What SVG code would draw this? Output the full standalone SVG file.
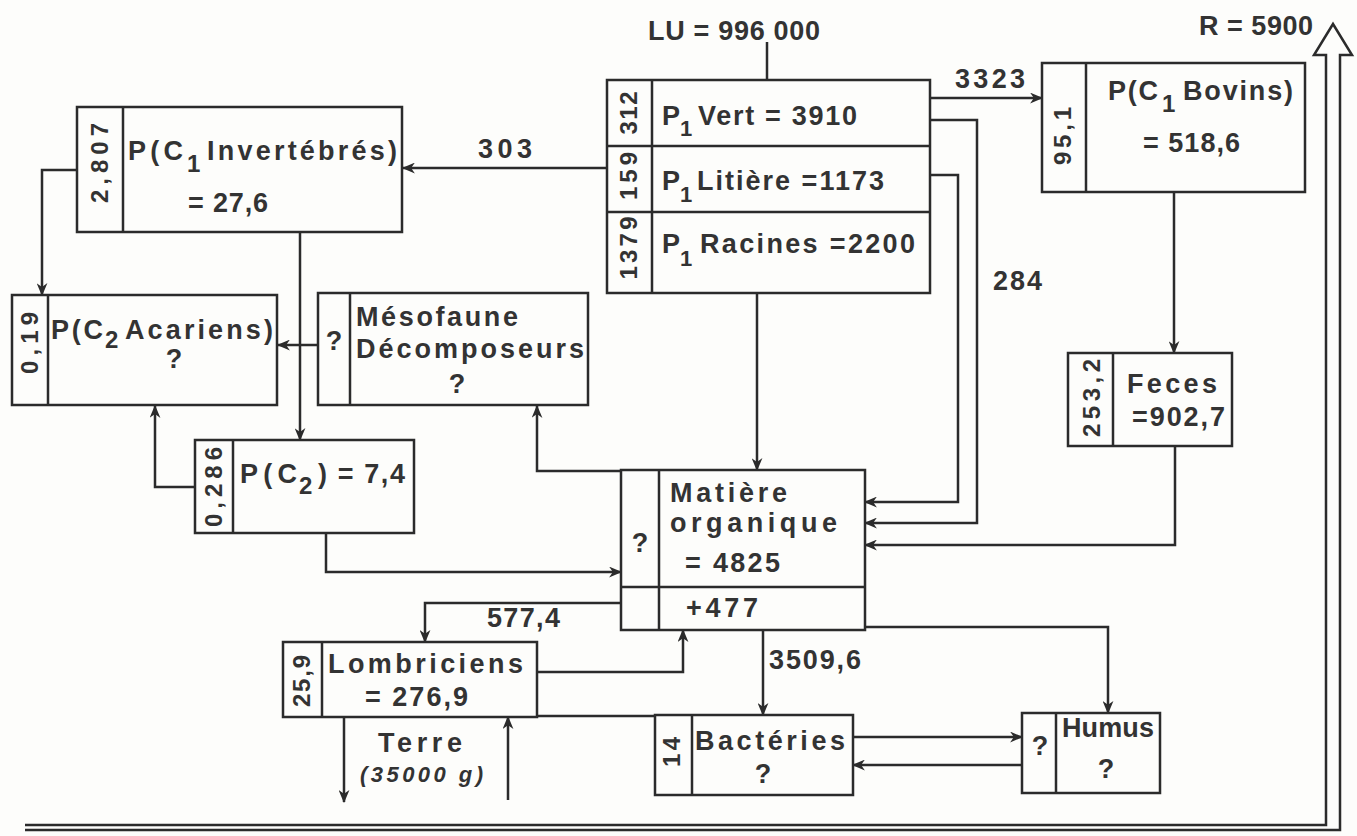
<svg xmlns="http://www.w3.org/2000/svg" width="1357" height="836" viewBox="0 0 1357 836">
<defs>
<style>
.b{fill:none;stroke:#2b2b2b;stroke-width:2.5}
.c{fill:none;stroke:#2b2b2b;stroke-width:2.5}
.a{marker-end:url(#ah)}
text{font-family:"Liberation Sans",Arial,sans-serif;font-weight:bold;fill:#333;font-size:27px}
.s{font-size:24px}
.ss{font-size:22px}
.r{font-size:24px;text-anchor:middle}
.m{text-anchor:middle}
.i{font-style:italic;font-size:22px}
</style>
<marker id="ah" viewBox="0 0 12 10" refX="11" refY="5" markerWidth="13" markerHeight="11" markerUnits="userSpaceOnUse" orient="auto"><path d="M0,0 L12,5 L0,10 L3.5,5 z" fill="#2b2b2b"/></marker>
</defs>
<rect width="1357" height="836" fill="#fdfdfb"/>

<g id="connectors">
<path class="c" d="M767,42 V80"/>
<path class="c a" d="M607,168 H403"/>
<path class="c a" d="M77,170 H42 V295"/>
<path class="c a" d="M300,232 V440"/>
<path class="c a" d="M318,345 H278"/>
<path class="c a" d="M195,487 H155 V406"/>
<path class="c a" d="M326,533 V572 H621"/>
<path class="c a" d="M621,471 H537 V406"/>
<path class="c a" d="M757,293 V470"/>
<path class="c a" d="M930,98 H1042"/>
<path class="c a" d="M930,120 H977 V523 H865"/>
<path class="c a" d="M930,175 H958 V502 H865"/>
<path class="c a" d="M1174,192 V353"/>
<path class="c a" d="M1175,446 V545 H865"/>
<path class="c a" d="M621,603 H425 V642"/>
<path class="c a" d="M537,672 H683 V630"/>
<path class="c" d="M537,716 H655"/>
<path class="c a" d="M763,630 V715"/>
<path class="c a" d="M865,627 H1108 V713"/>
<path class="c a" d="M853,737 H1022"/>
<path class="c a" d="M1022,765 H853"/>
<path class="c a" d="M344,717 V802"/>
<path class="c a" d="M508,800 V717"/>
<path class="c" d="M25,825 H1326 V55 H1314 L1333,24 L1352,55 H1340 V830 H25"/>
</g>

<g id="labels">
<text x="648" y="40" textLength="172">LU = 996 000</text>
<text x="1199" y="35" textLength="114">R = 5900</text>
<text x="478" y="158" textLength="54">303</text>
<text x="955" y="88" textLength="70">3323</text>
<text x="993" y="290" textLength="49">284</text>
<text x="487" y="627" textLength="73">577,4</text>
<text x="769" y="669" textLength="92">3509,6</text>
</g>

<g id="p1">
<rect class="b" x="607" y="80" width="323" height="213"/>
<path class="b" d="M652,80 V293 M607,146 H930 M607,212 H930"/>
<text class="r" x="629" y="121" textLength="43" transform="rotate(-90 629 113)">312</text>
<text class="r" x="629" y="184" textLength="48" transform="rotate(-90 629 176)">159</text>
<text class="r" x="629" y="256" textLength="63" transform="rotate(-90 629 248)">1379</text>
<text x="662" y="125">P</text><text class="ss" x="680" y="136">1</text>
<text x="698" y="125" textLength="159">Vert = 3910</text>
<text x="662" y="190">P</text><text class="ss" x="680" y="202">1</text>
<text x="697" y="190" textLength="187">Litière =1173</text>
<text x="662" y="253">P</text><text class="ss" x="680" y="266">1</text>
<text x="700" y="253" textLength="215">Racines =2200</text>
</g>

<g id="invertebres">
<rect class="b" x="77" y="107" width="325" height="125"/>
<path class="b" d="M123,107 V232"/>
<text class="r" x="100" y="171" textLength="80" transform="rotate(-90 100 163)">2,807</text>
<text x="128" y="160" textLength="55">P(C</text><text class="s" x="187" y="172">1</text>
<text x="207" y="160" textLength="190">Invertébrés)</text>
<text x="188" y="212" textLength="80">= 27,6</text>
</g>

<g id="acariens">
<rect class="b" x="12" y="295" width="265" height="110"/>
<path class="b" d="M48,295 V405"/>
<text class="r" x="30" y="351" textLength="62" transform="rotate(-90 30 343)">0,19</text>
<text x="51" y="339" textLength="52">P(C</text><text class="s" x="105" y="348">2</text>
<text x="125" y="339" textLength="148">Acariens)</text>
<text class="m" x="174" y="368">?</text>
</g>

<g id="mesofaune">
<rect class="b" x="318" y="293" width="270" height="112"/>
<path class="b" d="M350,293 V405"/>
<text class="m" x="334" y="350">?</text>
<text x="356" y="326" textLength="162">Mésofaune</text>
<text x="356" y="358" textLength="228">Décomposeurs</text>
<text class="m" x="457" y="393">?</text>
</g>

<g id="pc2">
<rect class="b" x="195" y="440" width="219" height="93"/>
<path class="b" d="M233,440 V533"/>
<text class="r" x="214" y="495" textLength="80" transform="rotate(-90 214 487)">0,286</text>
<text x="240" y="483" textLength="57">P(C</text><text class="s" x="299" y="494">2</text>
<text x="318" y="483" textLength="87">) = 7,4</text>
</g>

<g id="matiere">
<rect class="b" x="621" y="470" width="244" height="160"/>
<path class="b" d="M659,470 V630 M621,587 H865"/>
<text class="m" x="640" y="552">?</text>
<text x="670" y="502" textLength="117">Matière</text>
<text x="670" y="532" textLength="167">organique</text>
<text x="685" y="572" textLength="95">= 4825</text>
<text x="686" y="617" textLength="72">+477</text>
</g>

<g id="lombriciens">
<rect class="b" x="283" y="642" width="254" height="75"/>
<path class="b" d="M322,642 V717"/>
<text class="r" x="302" y="689" textLength="52" transform="rotate(-90 302 681)">25,9</text>
<text x="328" y="673" textLength="195">Lombriciens</text>
<text x="365" y="706" textLength="103">= 276,9</text>
</g>

<g id="terre">
<text x="378" y="752" textLength="84">Terre</text>
<text class="i" x="360" y="782" textLength="123">(35000 g)</text>
</g>

<g id="bacteries">
<rect class="b" x="655" y="715" width="198" height="80"/>
<path class="b" d="M692,715 V795"/>
<text class="r" x="672" y="760" textLength="30" transform="rotate(-90 672 752)">14</text>
<text x="695" y="750" textLength="150">Bactéries</text>
<text class="m" x="763" y="783">?</text>
</g>

<g id="humus">
<rect class="b" x="1022" y="713" width="138" height="80"/>
<path class="b" d="M1056,713 V793"/>
<text class="m" x="1040" y="755">?</text>
<text x="1062" y="737" textLength="92">Humus</text>
<text class="m" x="1106" y="778">?</text>
</g>

<g id="bovins">
<rect class="b" x="1042" y="63" width="263" height="129"/>
<path class="b" d="M1086,63 V192"/>
<text class="r" x="1063" y="144" textLength="58" transform="rotate(-90 1063 136)">95,1</text>
<text x="1108" y="100" textLength="50">P(C</text><text class="s" x="1162" y="112">1</text>
<text x="1183" y="100" textLength="110">Bovins)</text>
<text x="1143" y="152" textLength="97">= 518,6</text>
</g>

<g id="feces">
<rect class="b" x="1068" y="353" width="164" height="93"/>
<path class="b" d="M1113,353 V446"/>
<text class="r" x="1092" y="406" textLength="78" transform="rotate(-90 1092 398)">253,2</text>
<text x="1127" y="393" textLength="90">Feces</text>
<text x="1132" y="426" textLength="93">=902,7</text>
</g>
</svg>
